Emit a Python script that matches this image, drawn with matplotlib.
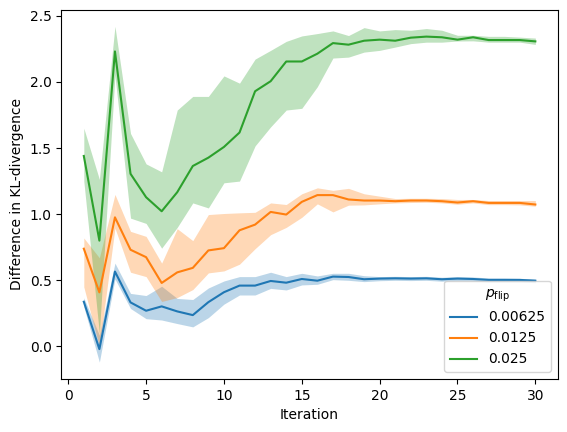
import matplotlib
matplotlib.use('Agg')
import matplotlib.pyplot as plt

# Iteration index
iterations = list(range(1, 31))

# p_flip = 0.00625
blue_mean = [0.338, -0.02, 0.566, 0.333, 0.27, 0.303, 0.265, 0.237, 0.335, 0.41,
             0.46, 0.46, 0.495, 0.482, 0.51, 0.497, 0.528, 0.525, 0.508, 0.513,
             0.515, 0.513, 0.515, 0.508, 0.513, 0.51, 0.503, 0.503, 0.503, 0.497]
blue_upper = [0.368, 0.085, 0.63, 0.401, 0.385, 0.455, 0.363, 0.355, 0.442, 0.495,
              0.528, 0.528, 0.561, 0.528, 0.553, 0.533, 0.553, 0.553, 0.535, 0.528,
              0.53, 0.528, 0.53, 0.523, 0.528, 0.525, 0.518, 0.518, 0.515, 0.51]
blue_lower = [0.30, -0.118, 0.51, 0.287, 0.21, 0.20, 0.173, 0.148, 0.218, 0.32,
              0.389, 0.389, 0.439, 0.427, 0.465, 0.47, 0.505, 0.5, 0.49, 0.497,
              0.5, 0.498, 0.5, 0.493, 0.498, 0.495, 0.488, 0.488, 0.488, 0.482]

# p_flip = 0.0125
orange_mean = [0.739, 0.409, 0.976, 0.731, 0.675, 0.48, 0.56, 0.594, 0.726, 0.743,
               0.878, 0.921, 1.017, 0.997, 1.093, 1.144, 1.144, 1.111, 1.103, 1.103,
               1.098, 1.103, 1.103, 1.098, 1.088, 1.098, 1.085, 1.085, 1.085, 1.073]
orange_upper = [0.82, 0.67, 1.149, 0.87, 0.832, 0.63, 0.89, 0.80, 0.997, 1.005,
                1.01, 1.014, 1.085, 1.073, 1.154, 1.199, 1.18, 1.195, 1.154, 1.136,
                1.118, 1.12, 1.12, 1.118, 1.111, 1.111, 1.103, 1.103, 1.103, 1.103]
orange_lower = [0.45, 0.0, 0.895, 0.561, 0.528, 0.34, 0.37, 0.43, 0.556, 0.571,
                0.622, 0.739, 0.845, 0.90, 0.976, 1.078, 1.017, 1.068, 1.07, 1.078,
                1.085, 1.088, 1.09, 1.085, 1.075, 1.085, 1.072, 1.072, 1.07, 1.06]

# p_flip = 0.025
green_mean = [1.44, 0.80, 2.23, 1.305, 1.128, 1.022, 1.166, 1.364, 1.427, 1.508,
              1.617, 1.929, 2.005, 2.154, 2.154, 2.213, 2.293, 2.281, 2.311, 2.319,
              2.311, 2.334, 2.342, 2.337, 2.319, 2.337, 2.316, 2.316, 2.316, 2.306]
green_upper = [1.65, 1.263, 2.42, 1.61, 1.38, 1.32, 1.787, 1.89, 1.89, 2.045,
               1.99, 2.172, 2.238, 2.306, 2.347, 2.365, 2.385, 2.35, 2.41, 2.385,
               2.395, 2.39, 2.403, 2.39, 2.352, 2.352, 2.344, 2.344, 2.338, 2.331]
green_lower = [1.25, 0.10, 2.05, 0.97, 0.93, 0.743, 0.90, 1.085, 1.047, 1.237,
               1.25, 1.516, 1.66, 1.787, 1.80, 1.964, 2.18, 2.187, 2.225, 2.238,
               2.263, 2.289, 2.30, 2.30, 2.309, 2.31, 2.30, 2.30, 2.30, 2.283]

labels = ['0.00625', '0.0125', '0.025']

fig, ax = plt.subplots(figsize=(5.67, 4.32), dpi=100)
fig.subplots_adjust(left=0.108, right=0.984, top=0.978, bottom=0.123)

series = [
    (blue_mean, blue_lower, blue_upper),
    (orange_mean, orange_lower, orange_upper),
    (green_mean, green_lower, green_upper),
]
for i, (mean, lower, upper) in enumerate(series):
    color = f'C{i}'
    ax.plot(iterations, mean, color=color, label=labels[i])
    ax.fill_between(iterations, lower, upper, color=color, alpha=0.3, linewidth=0)

ax.set_xlabel('Iteration')
ax.set_ylabel('Difference in KL-divergence')
ax.legend(title=r'$p_{\mathrm{flip}}$', loc='lower right')

plt.savefig('out.png')
